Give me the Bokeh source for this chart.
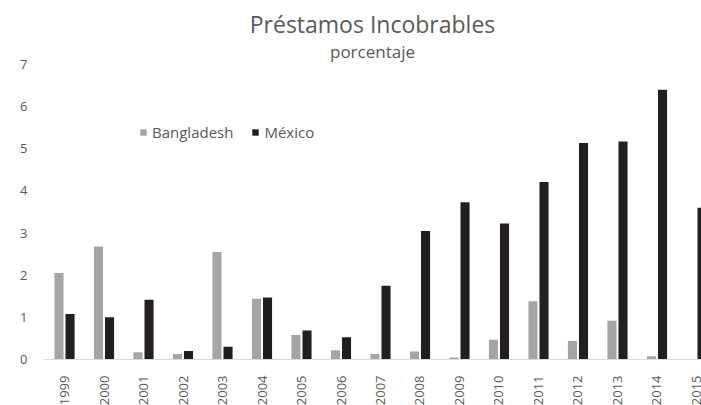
import math
from bokeh.plotting import figure
from bokeh.models import ColumnDataSource, Range1d, FixedTicker, Title, Legend
from bokeh.transform import dodge
from bokeh.embed import file_html
from bokeh.resources import INLINE

years = [1999, 2000, 2001, 2002, 2003, 2004, 2005, 2006, 2007, 2008,
         2009, 2010, 2011, 2012, 2013, 2014, 2015]
bangladesh = [2.05, 2.68, 0.17, 0.13, 2.55, 1.44, 0.58, 0.22, 0.13, 0.19,
              0.05, 0.47, 1.38, 0.44, 0.92, 0.08, float("nan")]
mexico = [1.08, 1.00, 1.42, 0.20, 0.30, 1.47, 0.69, 0.53, 1.75, 3.05,
          3.73, 3.23, 4.21, 5.14, 5.17, 6.40, 3.60]
y_ticks = [0, 1, 2, 3, 4, 5, 6, 7]

FONT = "Open Sans"
TXT = "#595959"

src = ColumnDataSource(dict(year=years, bd=bangladesh, mx=mexico))

p = figure(width=701, height=405, output_backend="svg", toolbar_location=None,
           x_range=Range1d(1998.468, 2015.127), y_range=Range1d(0, 7),
           frame_width=658, frame_height=295,
           min_border_left=43, min_border_right=0, min_border_bottom=10,
           min_border_top=64)
p.outline_line_color = None
p.background_fill_color = "white"
p.xgrid.visible = False
p.ygrid.visible = False

r1 = p.vbar(x=dodge("year", -0.14, range=p.x_range), top="bd", width=0.23,
            source=src, fill_color="#A5A5A5", line_color=None)
r2 = p.vbar(x=dodge("year", 0.14, range=p.x_range), top="mx", width=0.23,
            source=src, fill_color="#231F20", line_color=None)

legend = Legend(items=[("Bangladesh", [r1]), ("México", [r2])],
                orientation="horizontal", location=(96, 217))
legend.glyph_width = 8
legend.glyph_height = 8
legend.label_standoff = 5
legend.spacing = 18
legend.padding = 2
legend.margin = 0
legend.background_fill_alpha = 0
legend.border_line_color = None
legend.label_text_font = FONT
legend.label_text_font_size = "15px"
legend.label_text_color = TXT
p.add_layout(legend, "center")

xa = p.xaxis[0]
xa.ticker = FixedTicker(ticks=years)
xa.major_label_orientation = math.pi / 2
xa.axis_line_color = "#D9D9D9"
xa.major_tick_line_color = None
xa.minor_tick_line_color = None
xa.major_label_text_font = FONT
xa.major_label_text_font_size = "13px"
xa.major_label_text_color = TXT
xa.major_label_standoff = 10

ya = p.yaxis[0]
ya.ticker = FixedTicker(ticks=y_ticks)
ya.axis_line_color = None
ya.major_tick_line_color = None
ya.minor_tick_line_color = None
ya.major_label_text_font = FONT
ya.major_label_text_font_size = "13px"
ya.major_label_text_color = TXT
ya.major_label_standoff = 10

p.add_layout(Title(text="porcentaje", align="center", text_font=FONT,
                   text_font_size="17px", text_color=TXT,
                   text_font_style="normal", standoff=4), "above")
p.add_layout(Title(text="Préstamos Incobrables", align="center", text_font=FONT,
                   text_font_size="23px", text_color=TXT,
                   text_font_style="normal", standoff=-8), "above")

open("out.html", "w").write(file_html(p, INLINE))
